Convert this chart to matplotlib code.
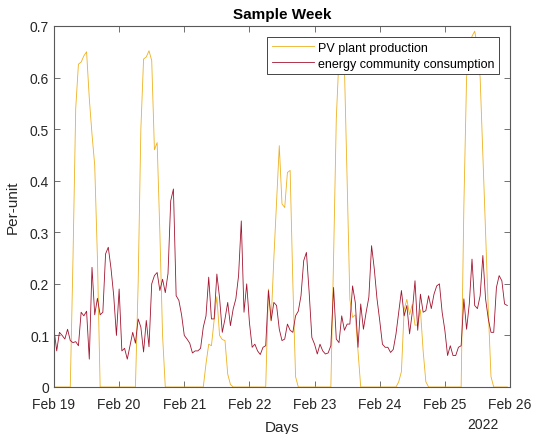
import numpy as np
import pandas as pd
import matplotlib
matplotlib.use("Agg")
import matplotlib.pyplot as plt
import matplotlib.dates as mdates

plt.rcParams['font.family'] = ['Liberation Sans', 'DejaVu Sans']

# -----------------------------
# Data (hourly, Feb 19 00:00 .. Feb 25 23:00, 2022)
# -----------------------------
pv_day1 = [0, 0, 0, 0, 0, 0, 0, 0.25, 0.54, 0.626, 0.63, 0.642, 0.65, 0.56,
           0.49, 0.43, 0.25, 0, 0, 0, 0, 0, 0, 0]
pv_day2 = [0, 0, 0, 0, 0, 0, 0, 0.2, 0.5, 0.636, 0.64, 0.652, 0.633, 0.46,
           0.474, 0.3, 0.1, 0, 0, 0, 0, 0, 0, 0]
pv_day3 = [0, 0, 0, 0, 0, 0, 0, 0.0, 0.045, 0.083, 0.08, 0.13, 0.175, 0.1,
           0.092, 0.09, 0.025, 0.005, 0, 0, 0, 0, 0, 0]
pv_day4 = [0, 0, 0, 0, 0, 0, 0, 0.19, 0.128, 0.25, 0.36, 0.468, 0.355, 0.348,
           0.416, 0.42, 0.2, 0.02, 0, 0, 0, 0, 0, 0]
pv_day5 = [0, 0, 0, 0, 0, 0, 0, 0.25, 0.52, 0.64, 0.67, 0.62, 0.4, 0.17,
           0.135, 0.14, 0.07, 0, 0, 0, 0, 0, 0, 0]
pv_day6 = [0, 0, 0, 0, 0, 0, 0, 0.01, 0.03, 0.15, 0.17, 0.14, 0.16, 0.12,
           0.12, 0.15, 0.07, 0.01, 0, 0, 0, 0, 0, 0]
pv_day7 = [0, 0, 0, 0, 0, 0, 0, 0.35, 0.6, 0.66, 0.68, 0.69, 0.66, 0.6,
           0.45, 0.3, 0.15, 0.02, 0, 0, 0, 0, 0, 0]

load_day1 = [0.112, 0.07, 0.106, 0.10, 0.093, 0.112, 0.09, 0.086, 0.088, 0.08,
             0.145, 0.138, 0.147, 0.054, 0.232, 0.14, 0.172, 0.14, 0.145, 0.258,
             0.271, 0.23, 0.177, 0.1]
load_day2 = [0.19, 0.07, 0.075, 0.054, 0.08, 0.106, 0.085, 0.132, 0.116, 0.068,
             0.129, 0.078, 0.2, 0.216, 0.222, 0.187, 0.209, 0.183, 0.22, 0.361,
             0.384, 0.177, 0.168, 0.14]
load_day3 = [0.1, 0.093, 0.085, 0.066, 0.07, 0.07, 0.075, 0.116, 0.138, 0.213,
             0.132, 0.132, 0.219, 0.173, 0.106, 0.132, 0.164, 0.119, 0.151, 0.171,
             0.216, 0.322, 0.145, 0.2]
load_day4 = [0.125, 0.077, 0.083, 0.07, 0.063, 0.077, 0.08, 0.187, 0.129, 0.164,
             0.158, 0.112, 0.09, 0.093, 0.122, 0.11, 0.106, 0.138, 0.147, 0.177,
             0.245, 0.261, 0.184, 0.096]
load_day5 = [0.083, 0.064, 0.083, 0.07, 0.064, 0.066, 0.08, 0.193, 0.093, 0.086,
             0.138, 0.11, 0.122, 0.122, 0.196, 0.164, 0.077, 0.161, 0.112, 0.145,
             0.174, 0.274, 0.229, 0.171]
load_day6 = [0.129, 0.083, 0.077, 0.077, 0.067, 0.073, 0.103, 0.145, 0.187, 0.138,
             0.158, 0.103, 0.145, 0.206, 0.11, 0.18, 0.145, 0.148, 0.177, 0.152,
             0.18, 0.196, 0.2, 0.145]
load_day7 = [0.11, 0.061, 0.08, 0.061, 0.061, 0.077, 0.08, 0.171, 0.112, 0.161,
             0.248, 0.158, 0.152, 0.177, 0.255, 0.171, 0.132, 0.106, 0.106, 0.193,
             0.216, 0.206, 0.161, 0.158]

pv = np.array(pv_day1 + pv_day2 + pv_day3 + pv_day4 + pv_day5 + pv_day6 + pv_day7)
load = np.array(load_day1 + load_day2 + load_day3 + load_day4 + load_day5
                + load_day6 + load_day7)
t = pd.date_range("2022-02-19 00:00", periods=len(pv), freq="h")

yticks = [0, 0.1, 0.2, 0.3, 0.4, 0.5, 0.6, 0.7]
ytick_labels = ["0", "0.1", "0.2", "0.3", "0.4", "0.5", "0.6", "0.7"]

# -----------------------------
# Plot
# -----------------------------
fig = plt.figure(figsize=(5.33, 4.35), dpi=100)
ax = fig.add_axes([54 / 533, 47 / 435, 456 / 533, 361 / 435])

ax.plot(t, pv, color="#EDB120", lw=0.6, label="PV plant production")
ax.plot(t, load, color="#A2142F", lw=0.6, label="energy community consumption")

ax.set_xlim(pd.Timestamp("2022-02-19"), pd.Timestamp("2022-02-26"))
ax.set_ylim(0, 0.7)
ax.set_yticks(yticks)
ax.set_yticklabels(ytick_labels)
ax.xaxis.set_major_locator(mdates.DayLocator())
ax.xaxis.set_major_formatter(mdates.DateFormatter("%b %d"))

axis_col = "#595959"
for s in ax.spines.values():
    s.set_color(axis_col)
    s.set_linewidth(0.8)
ax.tick_params(direction="in", length=4, width=0.6, color=axis_col,
               labelcolor="#262626", labelsize=10, top=True, right=True)
ax.tick_params(axis="x", pad=7)

ax.set_title("Sample Week", fontsize=11, fontweight="bold", color="#000000", pad=6)
ax.set_xlabel("Days", fontsize=11, color="#262626", labelpad=7)
ax.set_ylabel("Per-unit", fontsize=11, color="#262626", labelpad=7)
fig.text(483 / 533, 1 - 425 / 435, "2022", ha="center", va="center",
         fontsize=10, color="#262626")

leg = ax.legend(loc="upper right", bbox_to_anchor=(0.9759, 0.9695), fontsize=9,
                frameon=True, fancybox=False, framealpha=1, edgecolor="#262626",
                handlelength=3.4, borderpad=0.38, labelspacing=0.3,
                handletextpad=0.3, borderaxespad=0)
leg.get_frame().set_linewidth(0.6)

fig.savefig("out.png", dpi=100)
